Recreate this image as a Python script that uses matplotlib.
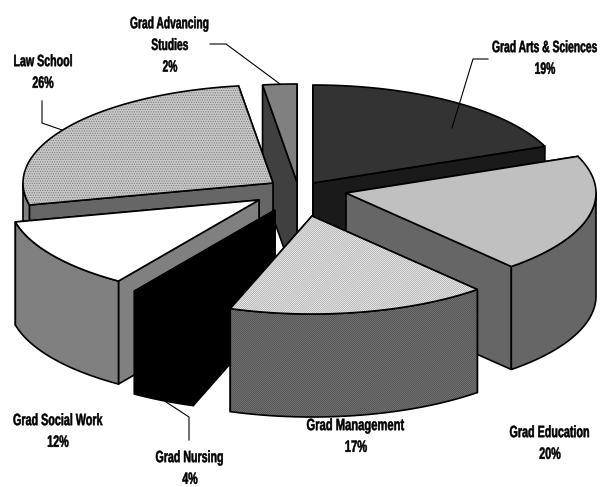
import numpy as np
import matplotlib
matplotlib.use("Agg")
import matplotlib.pyplot as plt
from matplotlib.patches import Polygon
from matplotlib.patheffects import AbstractPathEffect
from matplotlib.transforms import Affine2D, Bbox

categories = ["Grad Arts & Sciences", "Grad Education", "Grad Management", "Grad Nursing",
              "Grad Social Work", "Law School", "Grad Advancing\nStudies"]
values = [18.9, 19.6, 16.8, 4.2, 11.9, 26.4, 2.2]

# exploded apex of every slice, and pie geometry (pixels)
apex_x = [313, 346, 312, 275, 259, 273, 297]
apex_y = [183, 193, 216, 210, 200, 183, 182]
RX, RY, DEPTH = 250, 98, 103

top_fill = ["#333333", "#c0c0c0", "white", "black", "white", "#c8c8c8", "#808080"]
top_hatch = [None, None, "////////////////", None, None, ".......", None]
top_hatch_col = ["k", "k", "#999999", "k", "k", "#777777", "k"]
wall_fill = ["#666666", "#666666", "#808080", "black", "#808080", "#808080", "#808080"]
wall_hatch = [None, None, "////////////////", None, None, None, None]
face_fill = ["#1a1a1a", "#666666", "#808080", "black", "#808080", "#666666", "#404040"]

label_x = [545, 550, 356, 190, 58, 43, 170]
label_y = [60, 445, 438, 470, 433, 74, 47]
label_w = [106, 81, 99, 69, 90, 59, 80]

plt.rcParams["hatch.linewidth"] = 0.5
fig = plt.figure(figsize=(6.02, 4.87), dpi=100)
ax = fig.add_axes([0, 0, 1, 1])
ax.set_xlim(0, 602)
ax.set_ylim(487, 0)
ax.axis("off")

v = np.array(values, dtype=float)
edges = np.concatenate([[0], np.cumsum(v)]) / v.sum() * 2 * np.pi
z = {0: 4, 1: 5, 2: 7, 3: 4.5, 4: 3, 5: 2, 6: 1}
lw = 1.2


def pt(i, t):
    return apex_x[i] + RX * np.sin(t), apex_y[i] - RY * np.cos(t)


def poly(points, fc, zo, hatch=None, ec="black"):
    if hatch:
        ax.add_patch(Polygon(points, closed=True, facecolor=fc, edgecolor=ec, hatch=hatch, lw=0, zorder=zo))
        ax.add_patch(Polygon(points, closed=True, fill=False, edgecolor="black", lw=lw, zorder=zo))
    else:
        ax.add_patch(Polygon(points, closed=True, facecolor=fc, edgecolor="black", lw=lw, zorder=zo))


for i in range(len(v)):
    t = np.linspace(edges[i], edges[i + 1], 60)
    ax_, ay_ = pt(i, t)
    apex = (apex_x[i], apex_y[i])
    zo = z[i]
    # inner radial faces, back one first
    for e in sorted((edges[i], edges[i + 1]), key=lambda a: pt(i, a)[1]):
        ex, ey = pt(i, e)
        poly([apex, (ex, ey), (ex, ey + DEPTH), (apex[0], apex[1] + DEPTH)], face_fill[i], zo)
    # outer wall, only the arc part facing the viewer
    tw = t[np.cos(t) < 0.02]
    if len(tw) > 1:
        wx, wy = pt(i, tw)
        wall = list(zip(wx, wy)) + list(zip(wx[::-1], wy[::-1] + DEPTH))
        poly(wall, wall_fill[i], zo + 0.1, wall_hatch[i], "#444444")
    # top
    top = [apex] + list(zip(ax_, ay_))
    poly(top, top_fill[i], zo + 0.2, top_hatch[i], top_hatch_col[i])


class Squeeze(AbstractPathEffect):
    """Draws text condensed in x about a centre, taller in y and slightly emboldened."""

    def __init__(self, cx, sx, sy, stroke):
        super().__init__()
        self.cx, self.sx, self.sy, self.stroke = cx, sx, sy, stroke

    def draw_path(self, renderer, gc, tpath, affine, rgbFace=None):
        tr = (Affine2D().scale(1, self.sy) + affine
              + Affine2D().translate(-self.cx, 0).scale(self.sx, 1).translate(self.cx, 0))
        gc0 = renderer.new_gc()
        gc0.copy_properties(gc)
        gc0.set_linewidth(self.stroke)
        gc0.set_foreground("black")
        renderer.draw_path(gc0, tpath, tr, rgbFace)
        gc0.restore()


renderer = fig.canvas.get_renderer()
for i, name in enumerate(categories):
    txt = ax.text(label_x[i], label_y[i], f"{name}\n{values[i]:.0f}%", ha="center", va="center",
                  family="Liberation Sans", weight="bold", fontsize=7.9,
                  linespacing=2.46, color="black", zorder=10)
    natural = txt.get_window_extent(renderer)
    cx = ax.transData.transform((label_x[i], label_y[i]))[0]
    sx = label_w[i] / natural.width
    txt.set_path_effects([Squeeze(cx, sx, 1.5, 0.35)])

    def extent(r=None, dpi=None, _orig=txt.get_window_extent, _cx=cx, _sx=sx):
        b = _orig(r, dpi)
        return Bbox([[_cx + (b.x0 - _cx) * _sx, b.y0], [_cx + (b.x1 - _cx) * _sx, b.y1]])

    txt.get_window_extent = extent

# leader lines
ax.plot([210, 226, 280], [44, 44, 84], color="black", lw=0.8, zorder=9)
ax.plot([42, 42, 62], [101, 123, 130], color="black", lw=0.8, zorder=9)
ax.plot([166, 189, 189], [402, 417, 440], color="black", lw=0.8, zorder=9)
ax.plot([488, 473, 452], [59, 59, 128], color="black", lw=0.8, zorder=9)

fig.savefig("out.png", dpi=100)
